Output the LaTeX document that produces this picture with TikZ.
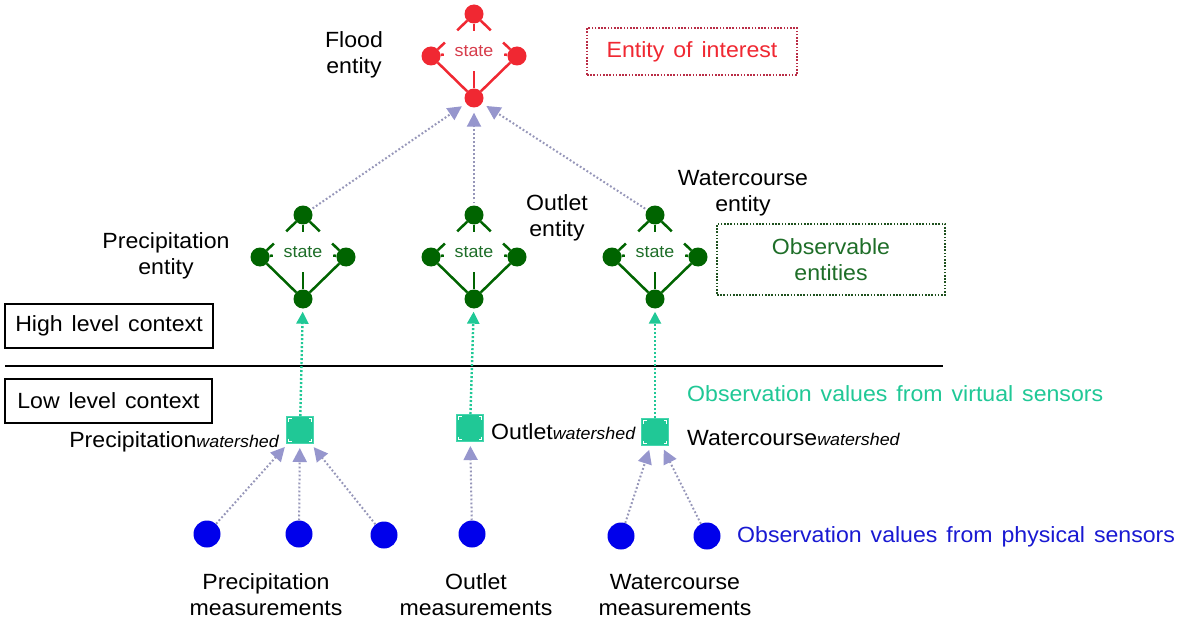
\documentclass[tikz,border=0pt]{standalone}
\usepackage{fontspec}
\setmainfont{Liberation Sans}[FakeStretch=1.05,WordSpace=1.4]
\usetikzlibrary{arrows.meta,calc}

\definecolor{flred}{RGB}{240,40,50}
\definecolor{flredtxt}{RGB}{215,60,75}
\definecolor{obsgreen}{RGB}{0,100,0}
\definecolor{obsgreentxt}{RGB}{30,110,40}
\definecolor{virteal}{RGB}{32,200,150}
\definecolor{virtealedge}{RGB}{70,215,175}
\definecolor{physblue}{RGB}{0,0,235}
\definecolor{physbluetxt}{RGB}{25,25,210}
\definecolor{lav}{RGB}{150,150,205}
\definecolor{lavline}{RGB}{150,150,185}
\definecolor{boxred}{RGB}{185,45,70}
\definecolor{boxgreen}{RGB}{30,80,30}

\newcommand{\lblfont}{\fontsize{22}{26}\selectfont}
\newcommand{\subfont}{\fontsize{17}{17}\selectfont\itshape}
\newcommand{\statefont}{\fontsize{17}{17}\selectfont}

\tikzset{
  sdot/.style={circle, fill=#1, minimum size=19pt, inner sep=0pt},
  statebox/.style={rectangle, minimum width=60pt, minimum height=40pt,
    inner sep=0pt, font=\statefont},
  glinestyle/.style={draw=#1, line width=2.5pt},
  physdot/.style={circle, fill=physblue, minimum size=27pt, inner sep=0pt},
  vsq/.style={rectangle, fill=virteal, draw=virtealedge, line width=1pt,
    minimum size=27pt, inner sep=0pt},
  lbl/.style={font=\lblfont, align=center, inner sep=0pt},
  ctxbox/.style={draw=black, line width=1.6pt, font=\lblfont, inner sep=0pt},
  dotbox/.style={draw=#1, line width=1.6pt, dash pattern=on 1.6pt off 1.6pt,
    font=\lblfont, align=center, inner sep=0pt},
  lavarrow/.style={draw=lavline, line width=2pt, dash pattern=on 1.8pt off 2.2pt,
    -{Triangle[length=14pt,width=14pt,fill=lav,color=lav]}},
  tealarrow/.style={draw=virteal, line width=2.4pt, dash pattern=on 2pt off 2pt,
    -{Triangle[length=12pt,width=12pt,fill=virteal,color=virteal]}}
}

% one "state" glyph: four dots on a diamond around a state label
\newcommand{\stateglyph}[5]{% name, x, y, colour, text colour
  \begin{scope}[shift={(#2,#3)}]
    \node[sdot=#4] (#1-t) at (0,-42) {};
    \node[sdot=#4] (#1-l) at (-43,0) {};
    \node[sdot=#4] (#1-r) at (43,0) {};
    \node[sdot=#4] (#1-b) at (0,42) {};
    \node[statebox, text=#5] (#1-c) at (0,-5) {state};
    \draw[glinestyle=#4] (#1-l) -- (#1-b);
    \draw[glinestyle=#4] (#1-r) -- (#1-b);
    \draw[glinestyle=#4] (#1-t) -- (#1-c);
    \draw[glinestyle=#4] (#1-c) -- (#1-b);
    \draw[glinestyle=#4] (#1-l) -- (#1-c);
    \draw[glinestyle=#4] (#1-r) -- (#1-c);
    \draw[glinestyle=#4, shorten >=27pt] (#1-t) -- (#1-l);
    \draw[glinestyle=#4, shorten >=27pt] (#1-t) -- (#1-r);
    \draw[glinestyle=#4, shorten >=31pt] (#1-l) -- (#1-t);
    \draw[glinestyle=#4, shorten >=31pt] (#1-r) -- (#1-t);
  \end{scope}}

% small white corner brackets inside a sensor square
\newcommand{\sqcorners}[1]{%
  \draw[white, line width=0.8pt]
    ($(#1.north west)+(2.5,5.5)$) -- ($(#1.north west)+(2.5,2.5)$) -- ($(#1.north west)+(5.5,2.5)$)
    ($(#1.north east)+(-2.5,5.5)$) -- ($(#1.north east)+(-2.5,2.5)$) -- ($(#1.north east)+(-5.5,2.5)$)
    ($(#1.south west)+(2.5,-5.5)$) -- ($(#1.south west)+(2.5,-2.5)$) -- ($(#1.south west)+(5.5,-2.5)$)
    ($(#1.south east)+(-2.5,-5.5)$) -- ($(#1.south east)+(-2.5,-2.5)$) -- ($(#1.south east)+(-5.5,-2.5)$);}

\begin{document}
\begin{tikzpicture}[x=1pt, y=-1pt]
  \useasboundingbox[fill=white] (0,0) rectangle (1184,623);

  % entity of interest
  \stateglyph{fl}{474}{56}{flred}{flredtxt}
  \node[lbl] (fllbl) at (354,55) {Flood\\entity};
  \node[dotbox=boxred, text=flred, minimum width=210pt, minimum height=47pt]
    (eoi) at (692,51.5) {Entity of interest};

  % observable entities
  \stateglyph{pr}{303}{257}{obsgreen}{obsgreentxt}
  \stateglyph{ou}{474}{257}{obsgreen}{obsgreentxt}
  \stateglyph{wa}{655}{257}{obsgreen}{obsgreentxt}
  \node[lbl] (prlbl) at (166,256) {Precipitation\\entity};
  \node[lbl] (oulbl) at (557,218) {Outlet\\entity};
  \node[lbl] (walbl) at (743,193) {Watercourse\\entity};
  \node[dotbox=boxgreen, text=obsgreentxt, minimum width=228pt, minimum height=71pt]
    (obsent) at (831,259.5) {Observable\\entities};

  % context levels
  \node[ctxbox, minimum width=208pt, minimum height=44pt] (hlc) at (109,326) {High level context};
  \node[ctxbox, minimum width=207pt, minimum height=44pt] (llc) at (108.5,401) {Low level context};
  \coordinate (divl) at (5,366);
  \coordinate (divr) at (943,366);
  \draw[line width=1.6pt] (divl) -- (divr);

  % virtual sensors
  \node[vsq] (sqp) at (300,430) {};
  \node[vsq] (sqo) at (470,428) {};
  \node[vsq] (sqw) at (655,432) {};
  \sqcorners{sqp}\sqcorners{sqo}\sqcorners{sqw}
  \node[lbl, anchor=base east] (sqplbl) at (279,447) {Precipitation{\subfont watershed}};
  \node[lbl, anchor=base west] (sqolbl) at (491,439) {Outlet{\subfont watershed}};
  \node[lbl, anchor=base west] (sqwlbl) at (687,445) {Watercourse{\subfont watershed}};
  \node[lbl, anchor=west, text=virteal] (virtlbl) at (687,394) {Observation values from virtual sensors};

  % physical sensors
  \node[physdot] (bp1) at (207,534) {};
  \node[physdot] (bp2) at (299,534) {};
  \node[physdot] (bp3) at (384,535) {};
  \node[physdot] (bo1) at (472,534) {};
  \node[physdot] (bw1) at (621,536) {};
  \node[physdot] (bw2) at (707,536) {};
  \node[lbl, anchor=west, text=physbluetxt] (physlbl) at (737,537) {Observation values from physical sensors};
  \node[lbl] (pmlbl) at (266,595) {Precipitation\\measurements};
  \node[lbl] (omlbl) at (476,595) {Outlet\\measurements};
  \node[lbl] (wmlbl) at (675,595) {Watercourse\\measurements};

  % physical -> virtual
  \draw[lavarrow, shorten >=4pt] (bp1) -- (sqp);
  \draw[lavarrow, shorten >=4pt] (bp2) -- (sqp);
  \draw[lavarrow, shorten >=4pt] (bp3) -- (sqp);
  \draw[lavarrow, shorten >=4pt] (bo1) -- (sqo);
  \draw[lavarrow, shorten >=4pt] (bw1) -- (sqw);
  \draw[lavarrow, shorten >=4pt] (bw2) -- (sqw);

  % virtual -> observable entities
  \draw[tealarrow, shorten >=3pt] (sqp) -- (pr-b);
  \draw[tealarrow, shorten >=3pt] (sqo) -- (ou-b);
  \draw[tealarrow, shorten >=3pt] (sqw) -- (wa-b);

  % observable entities -> entity of interest
  \draw[lavarrow, shorten >=5pt, shorten <=2pt] (pr-t) -- (fl-b);
  \draw[lavarrow, shorten >=5pt, shorten <=2pt] (ou-t) -- (fl-b);
  \draw[lavarrow, shorten >=5pt, shorten <=2pt] (wa-t) -- (fl-b);
\end{tikzpicture}
\end{document}
